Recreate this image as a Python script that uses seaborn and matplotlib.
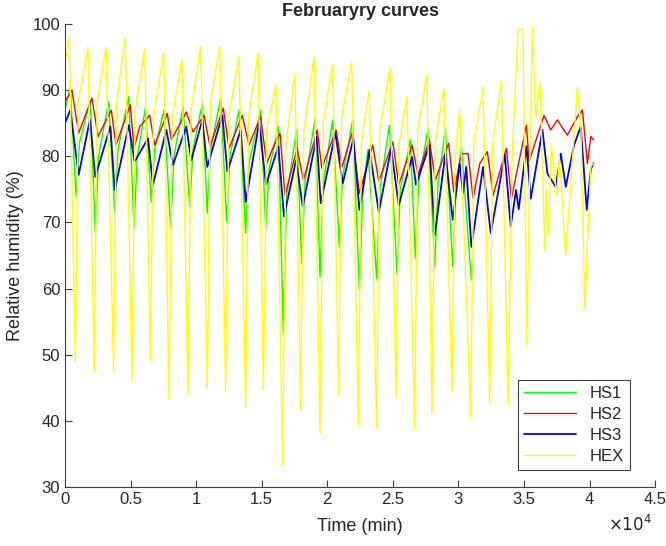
import pandas as pd
import seaborn as sns
import matplotlib.pyplot as plt
from matplotlib.ticker import FuncFormatter

sns.set_theme(style="white", context="paper")
plt.rcParams['font.family'] = ['Liberation Sans', 'DejaVu Sans']

# (time in min, relative humidity %) key points
hs1_points = [
    (0, 87), (400, 90.5), (840, 73.9), (1100, 82), (1930, 88.5), (2310, 68.6), (2560, 80),
    (3330, 88.3), (3790, 71.6), (4040, 81), (4860, 89), (5260, 69.1), (5510, 80),
    (6130, 87.3), (6580, 73.1), (6830, 81), (7550, 87), (8060, 69.1), (8310, 80),
    (9000, 87.5), (9510, 72.4), (9760, 81), (10470, 88), (10850, 71.4), (11100, 81),
    (11870, 88.8), (12330, 70.1), (12580, 80), (13270, 87), (13780, 68.4), (14030, 79),
    (14920, 87), (15310, 69.1), (15560, 78), (16270, 84.5), (16650, 53.2), (16900, 74),
    (17670, 84), (18050, 63.8), (18300, 76), (19070, 85.7), (19450, 61.8), (19700, 76),
    (20410, 85.5), (20920, 66.3), (21170, 77), (21940, 85.5), (22450, 59.8), (22700, 74),
    (23100, 81), (23770, 61.5), (24020, 75), (24740, 84.7), (25320, 62.3), (25570, 75),
    (26340, 82.5), (26720, 64.6), (26970, 76), (27690, 84.2), (28200, 63.3), (28450, 76),
    (29010, 84), (29570, 63.3), (29820, 75), (30230, 81.5), (30990, 61.3),
]
hs2_points = [
    (0, 88.3), (530, 90), (1040, 83.5), (2060, 88.8), (2520, 83), (3530, 87),
    (3890, 81.7), (4980, 87.8), (5260, 81.2), (5700, 84.5), (6460, 86.2), (6840, 81.7),
    (7800, 86.5), (8110, 82.5), (9250, 86.7), (9760, 83.7), (10600, 86.2), (11060, 81.5),
    (12070, 87.3), (12510, 81.2), (13520, 86.2), (14030, 81.7), (14920, 86), (15380, 78.9),
    (15900, 81.5), (16400, 83.5), (16780, 74.1), (17700, 81.2), (18180, 76.4), (19240, 84),
    (19580, 78.2), (20670, 84), (21130, 78.4), (21890, 83.5), (22450, 74.4), (23470, 81.7),
    (23930, 76.2), (25000, 82.2), (25450, 75.7), (26470, 81.7), (26920, 77.2), (27790, 82.5),
    (28240, 76.4), (29260, 82), (29650, 74.6), (30230, 80.4), (30740, 80.4), (31120, 73.6),
    (31630, 78.9), (32210, 80.7), (32650, 74.1), (33660, 81.2), (34040, 73.6), (35190, 84.7),
    (35390, 79.2), (36530, 86.2), (37040, 84), (37550, 85.5), (38310, 83.2), (39080, 86),
    (39460, 87), (39840, 78.9), (40100, 83), (40300, 82.5),
]
hs3_points = [
    (0, 85), (400, 87), (1040, 77.2), (1900, 85.5), (2310, 76.9), (3460, 84.5),
    (3790, 74.9), (4860, 84.7), (5310, 79.2), (6330, 82.7), (6710, 75.7), (7730, 84),
    (8240, 78.7), (9250, 84.5), (9630, 79.4), (10470, 85.5), (10850, 78.4), (12000, 86.2),
    (12380, 77.7), (13400, 84), (13780, 73.1), (14800, 85), (15330, 75.7), (16270, 81.5),
    (16700, 70.9), (17620, 79.4), (18130, 72.4), (19190, 83), (19500, 72.9), (20620, 83.5),
    (21180, 75.9), (21990, 82.7), (22450, 71.9), (23220, 81), (23930, 71.6), (24870, 81.2),
    (25450, 72.6), (26470, 79.9), (26770, 75.7), (27790, 81.7), (28200, 68.1), (29010, 80.4),
    (29570, 70.4), (30100, 78.9), (30350, 74.4), (30600, 78.4), (30990, 66.3), (31880, 78.4),
    (32470, 68.4), (33540, 80.2), (33990, 69.4), (34400, 74.9), (34600, 72), (35190, 81.5),
    (35520, 73.6), (36410, 84), (36790, 77.4), (37420, 75.4), (37810, 80.4), (38190, 75.4),
    (38820, 81.7), (39330, 84.5), (39790, 71.9), (40100, 78), (40300, 79),
]
hex_points = [
    (0, 94), (330, 98), (790, 49), (1000, 88), (1750, 96.5), (2240, 47.5), (2450, 88),
    (3130, 96.5), (3710, 47.5), (3920, 88), (4600, 98), (5110, 46), (5350, 87),
    (6080, 96.3), (6510, 49), (6750, 86), (7530, 95.8), (7930, 43.2), (8180, 86),
    (8920, 94.6), (9380, 43.9), (9620, 87), (10350, 96.6), (10850, 45), (11080, 88),
    (11800, 96.6), (12250, 44.4), (12500, 86), (13270, 95.1), (13780, 42.1), (14000, 86),
    (14720, 95.6), (15130, 44.7), (15380, 84), (16090, 90.8), (16600, 33.3), (16850, 82),
    (17540, 92.5), (17970, 41.6), (18220, 84), (18990, 95), (19450, 38.2), (19700, 85),
    (20410, 94), (20870, 43.9), (21100, 86), (21860, 94.3), (22370, 39.4), (22600, 82),
    (23200, 90), (23770, 38.9), (24000, 84), (24790, 93.3), (25250, 43.5), (25480, 82),
    (26080, 89), (26670, 38.9), (26900, 84), (27610, 92.5), (27990, 41.2), (28230, 82),
    (28880, 90.3), (29520, 44.4), (29750, 80), (30100, 87), (30940, 40.6), (31180, 82),
    (31880, 90.5), (32390, 42.7), (32620, 82), (33280, 91.5), (33790, 42.4), (34100, 80),
    (34550, 99.2), (34930, 99.2), (35210, 51.5), (35640, 99.6), (35900, 86), (36230, 91.3),
    (36590, 65.8), (36700, 75), (36850, 68), (37090, 81.7), (37500, 74), (37700, 80),
    (38190, 65), (39080, 90.5), (39350, 84), (39640, 57), (40100, 78.4), (40300, 79),
]

series = {"HS1": hs1_points, "HS2": hs2_points, "HS3": hs3_points, "HEX": hex_points}
colors = {"HS1": "#00ff00", "HS2": "#ff0000", "HS3": "#0000ff", "HEX": "#ffff00"}

rows = []
for name, pts in series.items():
    for t, v in pts:
        rows.append({"Time": t, "RH": v, "Sensor": name})
df = pd.DataFrame(rows)

fig = plt.figure(figsize=(6.66, 5.46), dpi=100)
ax = fig.add_axes([0.0976, 0.108, 0.886, 0.848])

sns.lineplot(data=df, x="Time", y="RH", hue="Sensor", palette=colors,
             estimator=None, sort=False, linewidth=1.0, ax=ax)

# blue trace looks a bit heavier in the original
for line in ax.lines:
    if line.get_color() == "#0000ff":
        line.set_linewidth(1.3)

ax.set_xlim(0, 45000)
ax.set_ylim(30, 100)
ax.set_xticks(range(0, 45001, 5000))
ax.set_yticks(range(30, 101, 10))
ax.xaxis.set_major_formatter(FuncFormatter(lambda x, p: f"{x / 1e4:g}"))

axis_col = "#404040"
for side in ["top", "right"]:
    ax.spines[side].set_visible(False)
for side in ["left", "bottom"]:
    ax.spines[side].set_color(axis_col)
    ax.spines[side].set_linewidth(0.8)
ax.tick_params(direction="in", length=5, width=0.8, colors=axis_col,
               labelsize=12, labelcolor="#262626", bottom=True, left=True)

ax.set_xlabel("Time (min)", fontsize=13, color="#262626", labelpad=8)
ax.set_ylabel("Relative humidity (%)", fontsize=13, color="#262626", labelpad=6)
ax.set_title("Februaryry curves", fontsize=13, fontweight="bold", pad=6)
ax.text(0.957, -0.058, r"$\times10^4$", transform=ax.transAxes, fontsize=12,
        ha="center", va="top", color="#262626")

handles, labels = ax.get_legend_handles_labels()
leg = ax.legend(handles, labels, loc="lower right", bbox_to_anchor=(0.972, 0.018),
                fontsize=12, handlelength=3.1, fancybox=False, framealpha=1,
                edgecolor=axis_col, borderpad=0.4, labelspacing=0.35)
leg.get_frame().set_linewidth(0.8)

fig.savefig("out.png", dpi=100)
